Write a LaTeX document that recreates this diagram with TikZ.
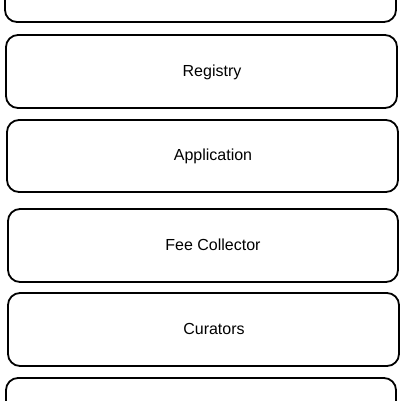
\documentclass[tikz,border=0pt]{standalone}
\usepackage{fontspec}
\setmainfont{Liberation Sans}
\begin{document}
\begin{tikzpicture}[x=1pt,y=-1pt,
  layer/.style={draw=black, line width=1.8pt, rounded corners=12pt},
  lbl/.style={font=\fontsize{16}{19}\selectfont, text=black, inner sep=0pt}]
\useasboundingbox (0,0) rectangle (404,400);
\fill[white] (0,0) rectangle (404,400);
% top (cut off)
\draw[layer] (5,-60) rectangle (396,22);
% Registry
\draw[layer] (6,35) rectangle (397,108);
\node[lbl] (registry) at (212,72) {Registry};
% Application
\draw[layer] (7,120) rectangle (398,192);
\node[lbl] (application) at (213,156) {Application};
% Fee Collector
\draw[layer] (8,209) rectangle (398,282);
\node[lbl] (fee) at (213,245) {Fee Collector};
% Curators
\draw[layer] (8,293) rectangle (399,366);
\node[lbl] (curators) at (214,329) {Curators};
% bottom (cut off)
\draw[layer] (6,378) rectangle (396,460);
\end{tikzpicture}
\end{document}
